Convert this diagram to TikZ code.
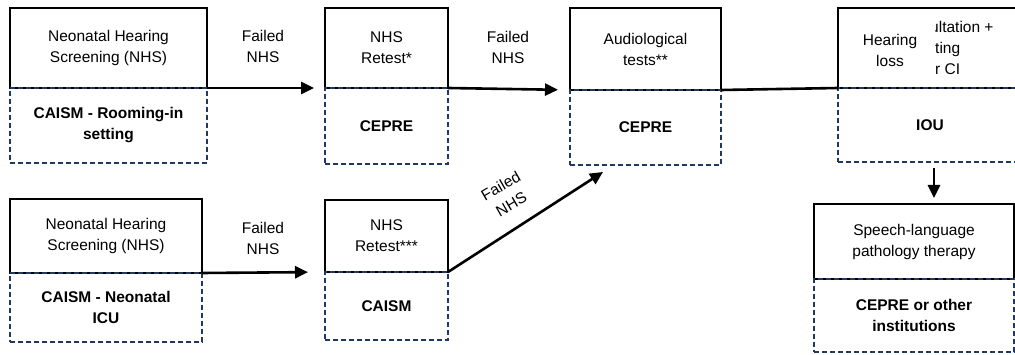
\documentclass[tikz,border=0pt]{standalone}
\usepackage{fontspec}
\setmainfont{Liberation Sans}
\usetikzlibrary{positioning,arrows.meta}
\definecolor{placenavy}{HTML}{1F3864}
\tikzset{
  stagebox/.style={draw=black, line width=1.6pt, align=center, inner sep=0pt, outer sep=0pt, anchor=north west},
  placebox/.style={draw=placenavy, line width=1.6pt, dash pattern=on 5pt off 3pt, align=center,
    font=\fontsize{15.5}{21}\selectfont\bfseries, inner sep=0pt, outer sep=0pt},
  flowarrow/.style={line width=2.6pt, -{Triangle[length=13pt,width=12pt]}},
  flowlabel/.style={align=center}
}
\begin{document}
\begin{tikzpicture}[x=1pt, y=-1pt, font=\fontsize{15.5}{21}\selectfont]
  \useasboundingbox (0,0) rectangle (1015,355);

  % Fila superior
  \node[stagebox, minimum width=197pt, minimum height=80pt] (nhs) at (10,8) {Neonatal Hearing\\Screening (NHS)};
  \node[placebox, minimum width=197pt, minimum height=75pt, below=0pt of nhs] (nhsplace) {CAISM - Rooming-in\\setting};

  \node[stagebox, minimum width=123pt, minimum height=80pt] (retest) at (325,8) {NHS\\Retest*};
  \node[placebox, minimum width=123pt, minimum height=76pt, below=0pt of retest] (retestplace) {CEPRE};

  \node[stagebox, minimum width=151pt, minimum height=82pt] (audio) at (570,8) {Audiological\\tests**};
  \node[placebox, minimum width=151pt, minimum height=75pt, below=0pt of audio] (audioplace) {CEPRE};

  \node[stagebox, minimum width=184pt, minimum height=80pt] (loss) at (838,8) {};
  \node[placebox, minimum width=184pt, minimum height=74pt, below=0pt of loss] (lossplace) {IOU};
  \node[align=center] (losstext) at (890,50) {Hearing\\loss};
  \begin{scope}
    \clip (935,10) rectangle (1015,86);
    \node[anchor=west, align=left, inner xsep=0pt] (cuttext) at (935,48) {\kern-5pt ultation +\\ting\\r CI};
  \end{scope}

  % Fila inferior
  \node[stagebox, minimum width=192pt, minimum height=74pt] (nicu) at (10,199) {Neonatal Hearing\\Screening (NHS)};
  \node[placebox, minimum width=192pt, minimum height=69pt, below=0pt of nicu] (nicuplace) {CAISM - Neonatal\\ICU};

  \node[stagebox, minimum width=123pt, minimum height=72pt] (renicu) at (325,200) {NHS\\Retest***};
  \node[placebox, minimum width=123pt, minimum height=68pt, below=0pt of renicu] (renicuplace) {CAISM};

  \node[stagebox, minimum width=200pt, minimum height=75pt] (therapy) at (814,204) {Speech-language\\pathology therapy};
  \node[placebox, minimum width=200pt, minimum height=73pt, below=0pt of therapy] (therapyplace) {CEPRE or other\\institutions};

  % Flechas
  \draw[flowarrow, shorten >=11pt] (nhs.south east) -- (retest.south west);
  \draw[flowarrow, shorten >=12pt] (retest.south east) -- (audio.south west);
  \draw[line width=2.6pt] (audio.south east) -- (loss.south west);
  \draw[flowarrow, shorten >=6pt] ([xshift=4pt,yshift=-6pt]lossplace.south) -- ([xshift=4pt]lossplace.south |- therapy.north);
  \draw[flowarrow, shorten >=17pt] (nicu.south east) -- (renicu.south west);
  \draw[flowarrow] (renicu.south east) -- ([xshift=33pt,yshift=-7pt]audioplace.south west);

  \node[flowlabel] (failA) at (263,46) {Failed\\NHS};
  \node[flowlabel] (failB) at (508,47) {Failed\\NHS};
  \node[flowlabel] (failC) at (263,238) {Failed\\NHS};
  \node[flowlabel, rotate=30] (failD) at (506,195) {Failed\\NHS};
\end{tikzpicture}
\end{document}
